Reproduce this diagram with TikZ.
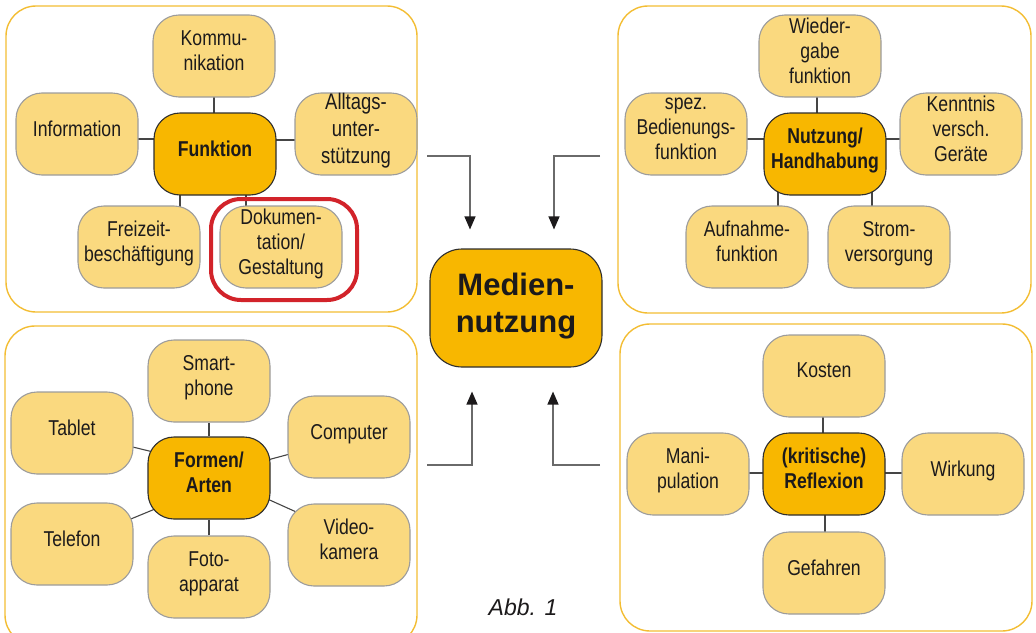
\documentclass[tikz,border=0pt]{standalone}
\usepackage{fontspec}
\setmainfont{Liberation Sans}
\newfontfamily\narrowfont{Liberation Sans}[FakeStretch=0.82]
\usetikzlibrary{arrows.meta,backgrounds,calc}
\definecolor{panelc}{HTML}{F3BD33}
\definecolor{leaffill}{HTML}{FAD97F}
\definecolor{leafdraw}{HTML}{9C9C9C}
\definecolor{hubfill}{HTML}{F8B700}
\definecolor{hubdraw}{HTML}{2E2E2E}
\definecolor{txt}{HTML}{1C1A1B}
\definecolor{redc}{HTML}{D2232A}
\definecolor{linec}{HTML}{454545}
\definecolor{arrc}{HTML}{6A6A6A}
\begin{document}
\begin{tikzpicture}[x=1pt,y=-1pt,
  panel/.style={draw=panelc,line width=1.4pt,rounded corners=30pt},
  leaf/.style={draw=leafdraw,fill=leaffill,line width=1.1pt,rounded corners=26pt,
    minimum width=122pt,minimum height=82pt,inner sep=0pt,align=center,text=txt,
    font=\narrowfont\fontsize{21.5}{25}\selectfont,
    execute at end node={\rule[-11pt]{0pt}{11pt}}},
  hub/.style={leaf,draw=hubdraw,fill=hubfill,font=\narrowfont\bfseries\fontsize{21.5}{25}\selectfont},
  bighub/.style={hub,minimum width=172pt,minimum height=118pt,rounded corners=32pt,
    font=\bfseries\fontsize{31}{37}\selectfont},
  conn/.style={draw=linec,line width=1.1pt},
  arr/.style={draw=arrc,line width=1.2pt,-{Triangle[length=13pt,width=11pt,color=txt]}}]
\useasboundingbox (0,0) rectangle (1036,632);
% panels
\draw[panel] (6,6) rectangle (417,312);
\draw[panel] (618,6) rectangle (1031,313);
\draw[panel] (5,326) rectangle (417,645);
\draw[panel] (620,324) rectangle (1032,631);
% Funktion group
\node[leaf] (komm) at (214,56) {Kommu-\\nikation};
\node[leaf] (info) at (77,134) {Information};
\node[hub] (funk) at (215,154) {Funktion};
\node[leaf,font=\narrowfont\fontsize{22.5}{27}\selectfont] (allt) at (356,134) {Alltags-\\unter-\\stützung};
\node[leaf] (frei) at (139,247) {Freizeit-\\beschäftigung};
\node[leaf] (doku) at (281,247) {Dokumen-\\tation/\\Gestaltung};
\draw[draw=redc,line width=4pt,rounded corners=30pt] (211,199) rectangle (357,300);
% Nutzung group
\node[leaf] (wied) at (820,56) {Wieder-\\gabe\\funktion};
\node[leaf] (spez) at (686,134) {spez.\\Bedienungs-\\funktion};
\node[hub] (nutz) at (825,154) {Nutzung/\\Handhabung};
\node[leaf] (kenn) at (961,134) {Kenntnis\\versch.\\Geräte};
\node[leaf] (aufn) at (747,247) {Aufnahme-\\funktion};
\node[leaf] (strom) at (889,247) {Strom-\\versorgung};
% Formen group
\node[leaf] (smart) at (209,381) {Smart-\\phone};
\node[leaf] (tablet) at (72,433) {Tablet};
\node[hub] (formen) at (209,478) {Formen/\\Arten};
\node[leaf] (comp) at (349,437) {Computer};
\node[leaf] (tele) at (72,544) {Telefon};
\node[leaf] (foto) at (209,577) {Foto-\\apparat};
\node[leaf] (video) at (349,545) {Video-\\kamera};
% Reflexion group
\node[leaf] (kost) at (824,376) {Kosten};
\node[leaf] (mani) at (688,474) {Mani-\\pulation};
\node[hub] (refl) at (824,474) {(kritische)\\Reflexion};
\node[leaf] (wirk) at (963,474) {Wirkung};
\node[leaf] (gef) at (824,573) {Gefahren};
% centre
\node[bighub,execute at end node={}] (med) at (516,308) {Medien-\\nutzung};
\node[font=\itshape\fontsize{23}{28}\selectfont,text=txt] (abb) at (523,607) {Abb. 1};
% arrows
\coordinate (c1) at (427,156);
\coordinate (c2) at (600,156);
\coordinate (c3) at (427,465);
\coordinate (c4) at (600,465);
\draw[arr] (c1) -| ([xshift=-46pt,yshift=19pt]med.north);
\draw[arr] (c2) -| ([xshift=38pt,yshift=19pt]med.north);
\draw[arr] (c3) -| ([xshift=-44pt,yshift=-24pt]med.south);
\draw[arr] (c4) -| ([xshift=37pt,yshift=-24pt]med.south);
% connectors
\begin{pgfonlayer}{background}
\draw[conn] (komm.center) -- (komm.center |- funk.center);
\draw[conn] ([yshift=-5pt]info.center) -- ([yshift=-5pt]info.center -| funk.center);
\draw[conn] ([yshift=-6pt]allt.center) -- ([yshift=-6pt]allt.center -| funk.center);
\draw[conn] ([xshift=41pt]frei.center) -- ([xshift=41pt]frei.center |- funk.center);
\draw[conn] ([xshift=-35pt]doku.center) -- ([xshift=-35pt]doku.center |- funk.center);
\draw[conn] ([xshift=-3pt]wied.center) -- ([xshift=-3pt]wied.center |- nutz.center);
\draw[conn] ([yshift=-5pt]spez.center) -- ([yshift=-5pt]spez.center -| nutz.center);
\draw[conn] ([yshift=-5pt]kenn.center) -- ([yshift=-5pt]kenn.center -| nutz.center);
\draw[conn] ([xshift=31pt]aufn.center) -- ([xshift=31pt]aufn.center |- nutz.center);
\draw[conn] ([xshift=-17pt]strom.center) -- ([xshift=-17pt]strom.center |- nutz.center);
\draw[conn] (smart) -- (formen);
\draw[conn] (foto) -- (formen);
\draw[conn] ($(tablet.-13)!-1!(formen.156)$) -- ($(tablet.-13)!2!(formen.156)$);
\draw[conn] ($(formen.17)!-1!(comp.-164)$) -- ($(formen.17)!2!(comp.-164)$);
\draw[conn] ($(tele.23)!-1!(formen.-151)$) -- ($(tele.23)!2!(formen.-151)$);
\draw[conn] ($(formen.-20)!-1!(video.149)$) -- ($(formen.-20)!2!(video.149)$);
\draw[conn] ([xshift=-1pt]kost.center) -- ([xshift=-1pt]kost.center |- refl.center);
\draw[conn] ([yshift=1pt]mani.center) -- ([yshift=1pt]mani.center -| refl.center);
\draw[conn] ([yshift=1pt]wirk.center) -- ([yshift=1pt]wirk.center -| refl.center);
\draw[conn] ([xshift=1pt]gef.center) -- ([xshift=1pt]gef.center |- refl.center);
\end{pgfonlayer}
\end{tikzpicture}
\end{document}
